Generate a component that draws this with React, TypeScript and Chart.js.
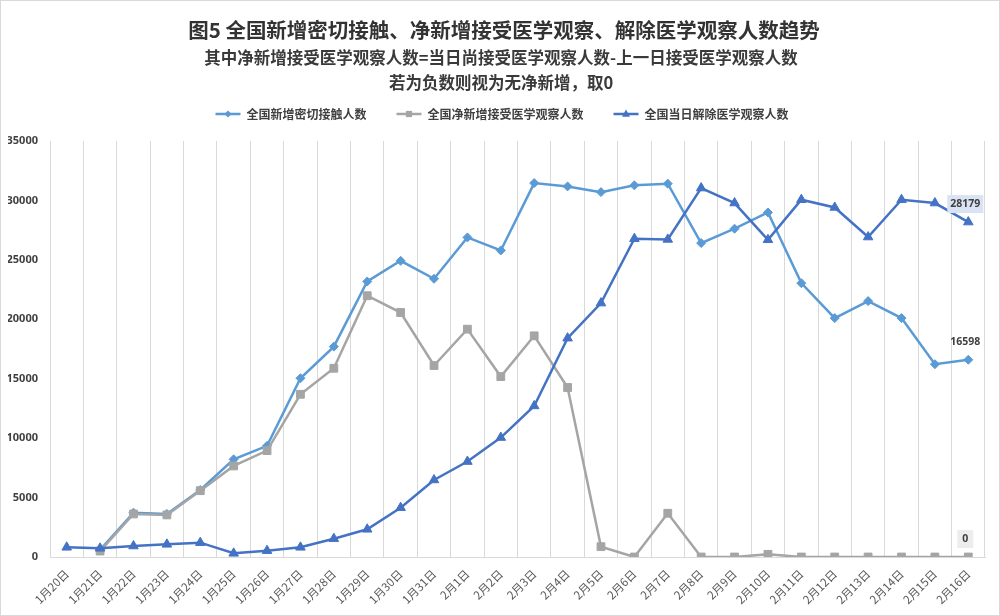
import React, { useEffect, useRef } from "react";
import { Chart, registerables } from "chart.js";

Chart.register(...registerables);

const titleText = "图5 全国新增密切接触、净新增接受医学观察、解除医学观察人数趋势";
const subtitleLines = [
  "其中净新增接受医学观察人数=当日尚接受医学观察人数-上一日接受医学观察人数",
  "若为负数则视为无净新增，取0",
];

const dates = [
  "1月20日", "1月21日", "1月22日", "1月23日", "1月24日", "1月25日", "1月26日",
  "1月27日", "1月28日", "1月29日", "1月30日", "1月31日", "2月1日", "2月2日",
  "2月3日", "2月4日", "2月5日", "2月6日", "2月7日", "2月8日", "2月9日",
  "2月10日", "2月11日", "2月12日", "2月13日", "2月14日", "2月15日", "2月16日",
];

const newContacts = [
  null, 600, 3730, 3620, 5640, 8220, 9350, 15040, 17700, 23180, 24920, 23410,
  26890, 25790, 31460, 31180, 30700, 31270, 31410, 26410, 27620, 28990, 23040,
  20100, 21530, 20100, 16220, 16598,
];

const netNewObserved = [
  null, 500, 3620, 3540, 5580, 7660, 8950, 13690, 15880, 21980, 20570, 16110,
  19170, 15180, 18610, 14260, 870, 0, 3680, 0, 0, 225, 0, 0, 0, 0, 0, 0,
];

const released = [
  815, 730, 925, 1065, 1205, 310, 530, 815, 1540, 2330, 4150, 6480,
  8030, 10050, 12710, 18410, 21360, 26780, 26720, 31040, 29780, 26690, 30060,
  29410, 26920, 30060, 29780, 28179,
];

const seriesNames = ["全国新增密切接触人数", "全国净新增接受医学观察人数", "全国当日解除医学观察人数"];
const seriesColors = ["#5B9BD5", "#A5A5A5", "#4472C4"];
const pointStyles = ["rectRot", "rect", "triangle"];
const pointRadii = [4.5, 5.5, 5.5];
const labelBoxColors = ["", "#EDEDED", "#DAE3F3"];

const CJK = '"Noto Sans CJK SC", "Noto Sans", sans-serif';

function drawMarker(ctx: CanvasRenderingContext2D, style: string, x: number, y: number, r: number) {
  ctx.beginPath();
  if (style === "rectRot") {
    ctx.moveTo(x, y - r);
    ctx.lineTo(x + r, y);
    ctx.lineTo(x, y + r);
    ctx.lineTo(x - r, y);
  } else if (style === "rect") {
    const s = r * Math.SQRT1_2;
    ctx.rect(x - s, y - s, 2 * s, 2 * s);
  } else {
    ctx.moveTo(x, y - r);
    ctx.lineTo(x + r * 0.9, y + r * 0.6);
    ctx.lineTo(x - r * 0.9, y + r * 0.6);
  }
  ctx.closePath();
  ctx.fill();
}

const framePlugin = {
  id: "frame",
  beforeDraw(chart: any) {
    const ctx = chart.ctx;
    ctx.save();
    ctx.fillStyle = "#ffffff";
    ctx.fillRect(0, 0, chart.width, chart.height);
    ctx.restore();
  },
  afterDraw(chart: any) {
    const ctx = chart.ctx;
    ctx.save();
    ctx.strokeStyle = "#D9D9D9";
    ctx.lineWidth = 1;
    ctx.strokeRect(0.5, 0.5, chart.width - 1, chart.height - 1);

    ctx.textAlign = "center";
    ctx.textBaseline = "middle";
    ctx.fillStyle = "#333333";
    ctx.font = `bold 20.5px ${CJK}`;
    ctx.fillText(titleText, 504, 30);
    ctx.font = `bold 16.5px ${CJK}`;
    ctx.fillStyle = "#3A3A3A";
    subtitleLines.forEach((line, i) => ctx.fillText(line, 501, 58 + i * 25));

    ctx.font = `bold 12px ${CJK}`;
    const lineW = 25;
    const gapText = 6;
    const gapItem = 30;
    const widths = seriesNames.map((n) => ctx.measureText(n).width);
    const total = widths.reduce((a, b) => a + b, 0) + seriesNames.length * (lineW + gapText) + (seriesNames.length - 1) * gapItem;
    let x = 502 - total / 2;
    const ly = 114;
    seriesNames.forEach((name, i) => {
      ctx.strokeStyle = seriesColors[i];
      ctx.lineWidth = 2.5;
      ctx.beginPath();
      ctx.moveTo(x, ly);
      ctx.lineTo(x + lineW, ly);
      ctx.stroke();
      ctx.fillStyle = seriesColors[i];
      drawMarker(ctx, pointStyles[i], x + lineW / 2, ly, pointRadii[i] * 0.8);
      ctx.fillStyle = "#404040";
      ctx.textAlign = "left";
      ctx.fillText(name, x + lineW + gapText, ly);
      x += lineW + gapText + widths[i] + gapItem;
    });

    ctx.font = `bold 10.5px "Noto Sans", sans-serif`;
    ctx.textAlign = "center";
    ctx.textBaseline = "middle";
    chart.data.datasets.forEach((ds: any, i: number) => {
      const meta = chart.getDatasetMeta(i);
      const last = meta.data.length - 1;
      const pt = meta.data[last];
      const val = ds.data[last];
      if (!pt || val == null) return;
      const text = String(val);
      const tx = pt.x - 3;
      const ty = pt.y - 18;
      const w = ctx.measureText(text).width;
      if (labelBoxColors[i]) {
        ctx.fillStyle = labelBoxColors[i];
        const bw = Math.max(w + 6, 16);
        ctx.fillRect(tx - bw / 2, ty - 9, bw, 18);
      }
      ctx.fillStyle = "#404040";
      ctx.fillText(text, tx, ty);
    });
    ctx.restore();
  },
};

export default function App() {
  const ref = useRef<HTMLCanvasElement>(null);
  useEffect(() => {
    if (!ref.current) return;
    const seriesData = [newContacts, netNewObserved, released];
    const chart = new Chart(ref.current, {
      type: "line",
      data: {
        labels: dates,
        datasets: seriesData.map((d, i) => ({
          label: seriesNames[i],
          data: d,
          borderColor: seriesColors[i],
          backgroundColor: seriesColors[i],
          borderWidth: 2.5,
          pointStyle: pointStyles[i] as any,
          pointRadius: pointRadii[i],
          pointBorderWidth: 1,
          pointBackgroundColor: seriesColors[i],
          pointBorderColor: seriesColors[i],
          tension: 0,
          spanGaps: false,
          order: [2, 1, 0][i],
        })),
      },
      options: {
        responsive: false,
        animation: false,
        devicePixelRatio: 1,
        layout: { padding: { top: 141, left: 8, right: 15, bottom: 2 } },
        plugins: {
          legend: { display: false },
          title: { display: false },
          tooltip: { enabled: false },
        },
        scales: {
          x: {
            offset: true,
            grid: { display: true, offset: true, color: "#D9D9D9", lineWidth: 1, drawTicks: false },
            border: { display: true, color: "#D9D9D9" },
            ticks: {
              autoSkip: false,
              minRotation: 45,
              maxRotation: 45,
              padding: 10,
              color: "#595959",
              font: { family: CJK, size: 11.5 },
            },
            afterFit: (s: any) => { s.height = 57; },
          },
          y: {
            min: 0,
            max: 35000,
            ticks: {
              stepSize: 5000,
              padding: 12,
              color: "#404040",
              font: { family: '"Noto Sans", sans-serif', size: 11, weight: "bold" },
              callback: (v: any) => String(v),
            },
            grid: { display: false, drawTicks: false },
            border: { display: false },
            afterFit: (s: any) => { s.width = 42; },
          },
        },
      },
      plugins: [framePlugin],
    });
    return () => chart.destroy();
  }, []);
  return (
    <div style={{ position: "absolute", left: 0, top: 0, width: 1000, height: 616 }}>
      <canvas ref={ref} width={1000} height={616} style={{ display: "block", width: 1000, height: 616 }} />
    </div>
  );
}
